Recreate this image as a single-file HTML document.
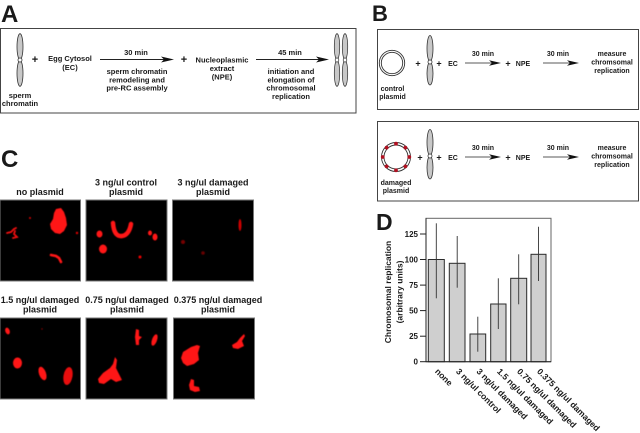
<!DOCTYPE html>
<html><head><meta charset="utf-8"><style>
html,body{margin:0;padding:0;background:#fff;}
svg{display:block;}
text{font-family:"Liberation Sans",Arial,sans-serif;font-weight:bold;fill:#1a1a1a;}
</style></head><body>
<svg width="640" height="433" viewBox="0 0 640 433" xmlns="http://www.w3.org/2000/svg">
<defs>
<filter id="bl" x="-20%" y="-20%" width="140%" height="140%"><feGaussianBlur stdDeviation="0.5"/></filter>
<g id="chr">
<ellipse cx="0" cy="-13.3" rx="3" ry="13" fill="#c8c8c8" stroke="#333" stroke-width="0.8"/>
<ellipse cx="0" cy="13.3" rx="3" ry="13" fill="#c8c8c8" stroke="#333" stroke-width="0.8"/>
<circle cx="0" cy="0" r="2" fill="#fff" stroke="#333" stroke-width="0.8"/>
</g>
<g id="chrb">
<ellipse cx="0" cy="-13.5" rx="3" ry="13" fill="#c8c8c8" stroke="#333" stroke-width="0.8"/>
<ellipse cx="0" cy="11.5" rx="3" ry="11.5" fill="#c8c8c8" stroke="#333" stroke-width="0.8"/>
<circle cx="0" cy="0" r="2" fill="#fff" stroke="#333" stroke-width="0.8"/>
</g>
</defs>
<rect width="640" height="433" fill="#fff"/>

<!-- Panel letters -->
<text x="1" y="22" font-size="24">A</text>
<text x="372" y="21" font-size="22">B</text>
<text x="1" y="167" font-size="24">C</text>
<text x="376" y="230" font-size="23">D</text>

<!-- Panel A -->
<rect x="0.5" y="28.5" width="355.5" height="84.5" fill="none" stroke="#444" stroke-width="1"/>
<use href="#chr" x="20" y="60"/>
<text x="20" y="98" font-size="7.5" text-anchor="middle">sperm</text>
<text x="20" y="106" font-size="7.5" text-anchor="middle">chromatin</text>
<text x="35" y="63" font-size="11" text-anchor="middle">+</text>
<text x="70" y="61" font-size="7.5" text-anchor="middle">Egg Cytosol</text>
<text x="70" y="70" font-size="7.5" text-anchor="middle">(EC)</text>
<line x1="100" y1="59.5" x2="166" y2="59.5" stroke="#222" stroke-width="0.9"/>
<polygon points="174,59.5 161,56.5 164,59.5 161,62.5" fill="#111"/>
<text x="136" y="55" font-size="7.5" text-anchor="middle">30 min</text>
<text x="137" y="74" font-size="7.5" text-anchor="middle">sperm chromatin</text>
<text x="137" y="82.3" font-size="7.5" text-anchor="middle">remodeling and</text>
<text x="137" y="90.6" font-size="7.5" text-anchor="middle">pre-RC assembly</text>
<text x="184" y="63" font-size="11" text-anchor="middle">+</text>
<text x="222" y="62.5" font-size="7.5" text-anchor="middle">Nucleoplasmic</text>
<text x="222" y="71" font-size="7.5" text-anchor="middle">extract</text>
<text x="222" y="79.5" font-size="7.5" text-anchor="middle">(NPE)</text>
<line x1="256" y1="59.5" x2="321" y2="59.5" stroke="#222" stroke-width="0.9"/>
<polygon points="329,59.5 316,56.5 319,59.5 316,62.5" fill="#111"/>
<text x="290" y="55" font-size="7.5" text-anchor="middle">45 min</text>
<text x="291" y="74" font-size="7.5" text-anchor="middle">initiation and</text>
<text x="291" y="82.3" font-size="7.5" text-anchor="middle">elongation of</text>
<text x="291" y="90.6" font-size="7.5" text-anchor="middle">chromosomal</text>
<text x="291" y="98.9" font-size="7.5" text-anchor="middle">replication</text>
<g transform="translate(337,60) scale(0.9,1)"><use href="#chr"/></g>
<g transform="translate(345,60) scale(0.9,1)"><use href="#chr"/></g>

<!-- Panel B1 -->
<rect x="377.5" y="29.5" width="261" height="80" fill="none" stroke="#444" stroke-width="1"/>
<circle cx="392" cy="63" r="12.7" fill="none" stroke="#333" stroke-width="0.9"/>
<circle cx="392" cy="63" r="10.7" fill="none" stroke="#333" stroke-width="0.9"/>
<text x="392.5" y="91" font-size="7" text-anchor="middle">control</text>
<text x="392.5" y="99" font-size="7" text-anchor="middle">plasmid</text>
<text x="418" y="66.5" font-size="9" text-anchor="middle">+</text>
<use href="#chrb" x="430" y="62"/>
<text x="439" y="66.5" font-size="9" text-anchor="middle">+</text>
<text x="453" y="66" font-size="7" text-anchor="middle">EC</text>
<line x1="465" y1="63" x2="493" y2="63" stroke="#222" stroke-width="0.8"/>
<polygon points="501,63 489,60.3 492,63 489,65.7" fill="#111"/>
<text x="483" y="56" font-size="7" text-anchor="middle">30 min</text>
<text x="508" y="66.5" font-size="9" text-anchor="middle">+</text>
<text x="523" y="66" font-size="7" text-anchor="middle">NPE</text>
<line x1="543" y1="63" x2="571" y2="63" stroke="#222" stroke-width="0.8"/>
<polygon points="579,63 567,60.3 570,63 567,65.7" fill="#111"/>
<text x="558" y="56" font-size="7" text-anchor="middle">30 min</text>
<text x="612" y="56" font-size="7" text-anchor="middle">measure</text>
<text x="612" y="64.5" font-size="7" text-anchor="middle">chromsomal</text>
<text x="612" y="73" font-size="7" text-anchor="middle">replication</text>

<!-- Panel B2 -->
<rect x="377.5" y="121.5" width="261" height="79.5" fill="none" stroke="#444" stroke-width="1"/>
<circle cx="396" cy="157" r="14.5" fill="none" stroke="#333" stroke-width="0.9"/>
<circle cx="396" cy="157" r="12" fill="none" stroke="#333" stroke-width="0.9"/>
<g fill="#b01020">
<circle cx="396" cy="143.7" r="1.9"/>
<circle cx="405.4" cy="147.6" r="1.9"/>
<circle cx="409.3" cy="157" r="1.9"/>
<circle cx="405.4" cy="166.4" r="1.9"/>
<circle cx="396" cy="170.3" r="1.9"/>
<circle cx="386.6" cy="166.4" r="1.9"/>
<circle cx="382.7" cy="157" r="1.9"/>
<circle cx="386.6" cy="147.6" r="1.9"/>
</g>
<text x="396" y="185" font-size="7" text-anchor="middle">damaged</text>
<text x="396" y="193" font-size="7" text-anchor="middle">plasmid</text>
<text x="420" y="160.5" font-size="9" text-anchor="middle">+</text>
<use href="#chrb" x="430" y="156"/>
<text x="439" y="160.5" font-size="9" text-anchor="middle">+</text>
<text x="453" y="160" font-size="7" text-anchor="middle">EC</text>
<line x1="465" y1="157" x2="493" y2="157" stroke="#222" stroke-width="0.8"/>
<polygon points="501,157 489,154.3 492,157 489,159.7" fill="#111"/>
<text x="483" y="150" font-size="7" text-anchor="middle">30 min</text>
<text x="508" y="160.5" font-size="9" text-anchor="middle">+</text>
<text x="523" y="160" font-size="7" text-anchor="middle">NPE</text>
<line x1="543" y1="157" x2="571" y2="157" stroke="#222" stroke-width="0.8"/>
<polygon points="579,157 567,154.3 570,157 567,159.7" fill="#111"/>
<text x="558" y="150" font-size="7" text-anchor="middle">30 min</text>
<text x="612" y="150" font-size="7" text-anchor="middle">measure</text>
<text x="612" y="158.5" font-size="7" text-anchor="middle">chromsomal</text>
<text x="612" y="167" font-size="7" text-anchor="middle">replication</text>

<!-- Panel C labels -->
<text x="40" y="195" font-size="9" text-anchor="middle">no plasmid</text>
<text x="126" y="185.5" font-size="9" text-anchor="middle">3 ng/ul control</text>
<text x="126" y="195" font-size="9" text-anchor="middle">plasmid</text>
<text x="213" y="185.5" font-size="9" text-anchor="middle">3 ng/ul damaged</text>
<text x="213" y="195" font-size="9" text-anchor="middle">plasmid</text>
<text x="40" y="303" font-size="9" text-anchor="middle">1.5 ng/ul damaged</text>
<text x="40" y="312.5" font-size="9" text-anchor="middle">plasmid</text>
<text x="127" y="303" font-size="9" text-anchor="middle">0.75 ng/ul damaged</text>
<text x="127" y="312.5" font-size="9" text-anchor="middle">plasmid</text>
<text x="218" y="303" font-size="9" text-anchor="middle">0.375 ng/ul damaged</text>
<text x="218" y="312.5" font-size="9" text-anchor="middle">plasmid</text>

<!-- Panel C images -->
<rect x="0" y="200" width="80.5" height="81" fill="#000" stroke="#777" stroke-width="1"/>
<rect x="86" y="200" width="81" height="81" fill="#000" stroke="#777" stroke-width="1"/>
<rect x="172.5" y="200" width="81" height="81" fill="#000" stroke="#777" stroke-width="1"/>
<rect x="0" y="318" width="80.5" height="81" fill="#000" stroke="#777" stroke-width="1"/>
<rect x="86" y="318" width="81" height="81" fill="#000" stroke="#777" stroke-width="1"/>
<rect x="173.5" y="318" width="81" height="81" fill="#000" stroke="#777" stroke-width="1"/>

<g filter="url(#bl)">
<!-- row1 img1 -->
<path d="M56,209 L61,208 L64,212 L66,218 L67,225 L64,231 L60,234 L55,233 L51,229 L50,224 L53,219 L54,213 Z" fill="#ff1515"/>
<path d="M7,233 L11,232 L14,229 L16,228 M15,231 L14,234 L17,237 L13,238" fill="none" stroke="#f01010" stroke-width="1.8" stroke-linecap="round"/>
<circle cx="30" cy="218" r="1" fill="#d00"/>
<path d="M51,255 L56,256 L59,258 L61,262" fill="none" stroke="#ff1515" stroke-width="2.6" stroke-linecap="round"/>
<circle cx="77" cy="233" r="1.2" fill="#d00"/>
<!-- row1 img2 -->
<path d="M113,223 Q114,237 122,236 Q129,235 131,224" fill="none" stroke="#ff1515" stroke-width="4.5" stroke-linecap="round"/>
<ellipse cx="99.5" cy="234" rx="3" ry="3.5" fill="#ff1515"/>
<ellipse cx="103" cy="249" rx="4" ry="4.5" fill="#ff1515"/>
<ellipse cx="150" cy="233" rx="2" ry="2.5" fill="#ff1515"/>
<ellipse cx="155" cy="237" rx="2.5" ry="3.5" fill="#ff1515"/>
<circle cx="140" cy="257" r="1.5" fill="#e00"/>
<!-- row1 img3 -->
<ellipse cx="240" cy="225" rx="1.5" ry="6" fill="#c00"/>
<circle cx="183" cy="242" r="2" fill="#700"/>
<circle cx="203" cy="253" r="1.8" fill="#600"/>
<!-- row2 img1 -->
<ellipse cx="7.5" cy="331" rx="2.2" ry="3.5" transform="rotate(-20 7.5 331)" fill="#ff1515"/>
<ellipse cx="17.5" cy="363" rx="4.5" ry="5.5" fill="#ff1515"/>
<ellipse cx="42.5" cy="373.5" rx="3.5" ry="7" transform="rotate(-20 42.5 373.5)" fill="#ff1515"/>
<ellipse cx="68" cy="376" rx="4.5" ry="9" transform="rotate(10 68 376)" fill="#e81010"/>
<circle cx="42" cy="329" r="0.7" fill="#900"/>
<!-- row2 img2 -->
<path d="M136,329 L139,330 L139,336 L142,337 L139,340 L139,345 L136,345 L135,337 Z" fill="#ff1515"/>
<ellipse cx="154.5" cy="340" rx="2.5" ry="6" transform="rotate(20 154.5 340)" fill="#ff1515"/>
<path d="M115,357 L117,360 L116,368 L119,374 L122,380 L116,382 L111,379 L104,384 L99,383 L98,379 L103,373 L110,368 L113,364 Z" fill="#ff1515"/>
<!-- row2 img3 -->
<path d="M183,352 L191,347 L197,345 L200,346 L198,353 L199,360 L194,364 L187,366 L183,363 L181,358 Z" fill="#ff1515"/>
<path d="M191,379 L194,380 L194,386 L199,387 L200,391 L195,392 L190,390 L189,385 Z" fill="#ff1515"/>
<path d="M244,334 L245,336 L242,341 L244,346 L238,349 L233,348 L232,345 L237,342 L240,338 Z" fill="#ff1515"/>
</g>

<!-- Panel D -->
<rect x="426" y="218.3" width="125" height="143.4" fill="none" stroke="#666" stroke-width="1"/>
<g fill="#cfcfcf" stroke="#2a2a2a" stroke-width="1">
<rect x="428.3" y="259.5" width="16" height="102.2"/>
<rect x="449.3" y="263.3" width="15.7" height="98.4"/>
<rect x="470" y="334" width="15.7" height="27.7"/>
<rect x="490.7" y="304" width="15.3" height="57.7"/>
<rect x="510.7" y="278.3" width="16" height="83.4"/>
<rect x="531" y="254.3" width="15" height="107.4"/>
</g>
<g stroke="#333" stroke-width="0.9">
<line x1="436.3" y1="223.3" x2="436.3" y2="298.3"/>
<line x1="457.2" y1="236" x2="457.2" y2="287.7"/>
<line x1="477.8" y1="316.7" x2="477.8" y2="351.7"/>
<line x1="498.3" y1="278.3" x2="498.3" y2="329"/>
<line x1="518.7" y1="254.3" x2="518.7" y2="304.3"/>
<line x1="538.5" y1="226.7" x2="538.5" y2="281"/>
</g>
<g stroke="#222" stroke-width="1">
<line x1="426" y1="218.3" x2="426" y2="362"/>
<line x1="426" y1="361.7" x2="551" y2="361.7"/>
<line x1="420" y1="361.7" x2="426" y2="361.7"/>
<line x1="420" y1="336.2" x2="426" y2="336.2"/>
<line x1="420" y1="310.6" x2="426" y2="310.6"/>
<line x1="420" y1="285.1" x2="426" y2="285.1"/>
<line x1="420" y1="259.5" x2="426" y2="259.5"/>
<line x1="420" y1="234" x2="426" y2="234"/>
</g>
<g font-size="8" text-anchor="end">
<text x="418" y="364.5">0</text>
<text x="418" y="339">25</text>
<text x="418" y="313.5">50</text>
<text x="418" y="288">75</text>
<text x="418" y="262.5">100</text>
<text x="418" y="237">125</text>
</g>
<text transform="translate(391,292) rotate(-90)" font-size="8.5" text-anchor="middle">Chromosomal replication</text>
<text transform="translate(402.5,292) rotate(-90)" font-size="8.5" text-anchor="middle">(arbitrary units)</text>
<g font-size="8.6">
<text transform="translate(434.5,372) rotate(45)">none</text>
<text transform="translate(455.5,372) rotate(45)">3 ng/ul control</text>
<text transform="translate(476,372) rotate(45)">3 ng/ul damaged</text>
<text transform="translate(496.5,372) rotate(45)">1.5 ng/ul damaged</text>
<text transform="translate(516.5,372) rotate(45)">0.75 ng/ul damaged</text>
<text transform="translate(536.5,372) rotate(45)">0.375 ng/ul damaged</text>
</g>
</svg>
</body></html>
